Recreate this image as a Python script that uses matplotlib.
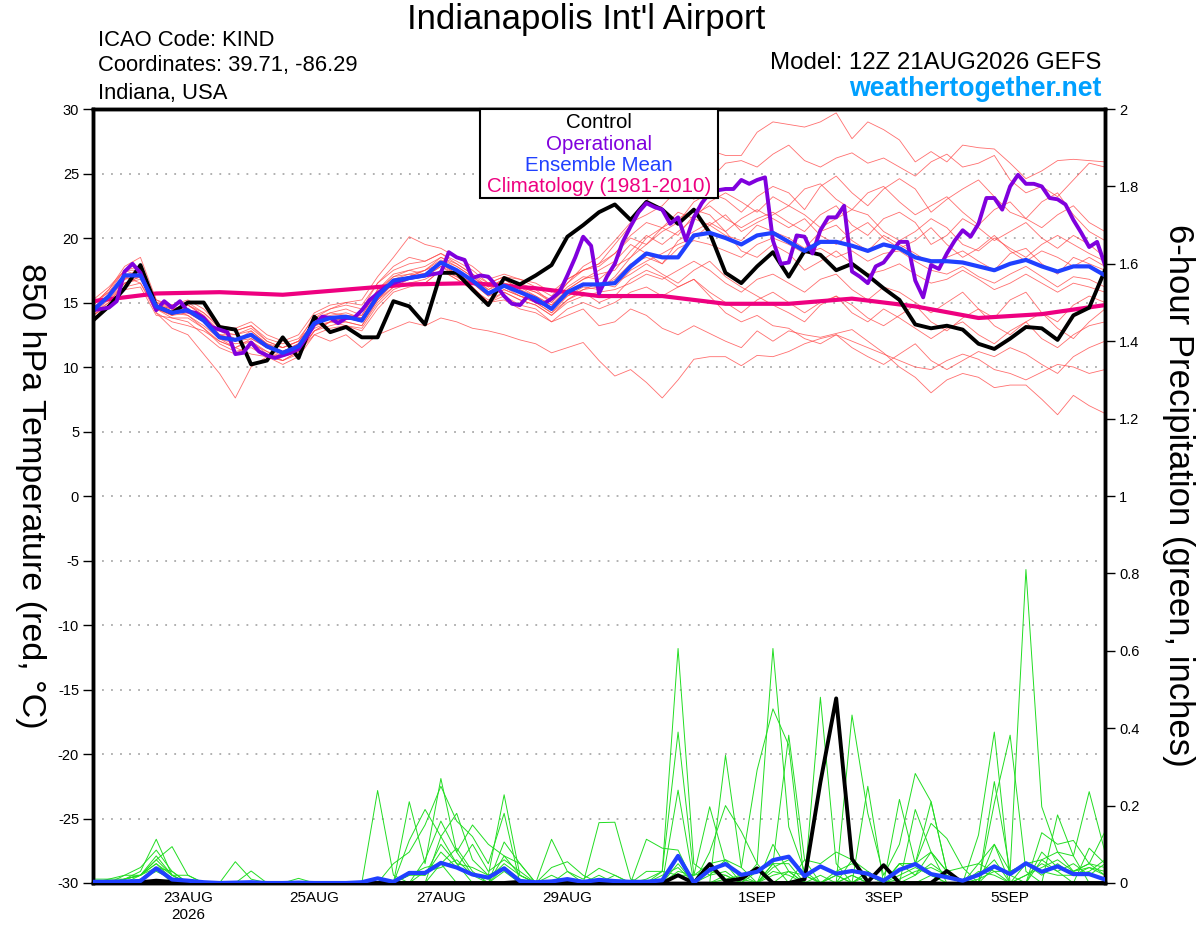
import pandas as pd
import matplotlib
matplotlib.use("Agg")
import matplotlib.pyplot as plt
from matplotlib.patches import Rectangle

plt.rcParams['font.family'] = ['Liberation Sans', 'DejaVu Sans']
plt.rcParams['axes.unicode_minus'] = False

# 6-hourly GEFS times, 3-hourly operational, daily climatology
times = pd.date_range("2026-08-21 12:00", periods=65, freq="6h")
op_times = pd.date_range("2026-08-21 12:00", periods=129, freq="3h")
clim_times = pd.date_range("2026-08-21 12:00", periods=17, freq="24h")

tick_dates = ["2026-08-23", "2026-08-25", "2026-08-27", "2026-08-29", "2026-09-01", "2026-09-03", "2026-09-05"]
tick_labels = ["23AUG\n2026", "25AUG", "27AUG", "29AUG", "1SEP", "3SEP", "5SEP"]

# 850 hPa temperature (C)
control_t = [13.6, 14.7, 16.1, 17.9, 14.7, 14.2, 15.0, 15.0, 13.1, 12.9, 10.2, 10.5, 12.3, 10.7, 13.9, 12.7, 13.1, 12.3, 12.3, 15.1, 14.7, 13.3, 17.3,
             17.3, 16.0, 14.8, 16.9, 16.4, 17.1, 17.9, 20.1, 21.0, 22.0, 22.6, 21.4, 22.8, 22.2, 21.1, 22.2, 20.4, 17.3, 16.5, 17.8, 18.9,
             17.0, 19.0, 18.7, 17.5, 18.0, 17.1, 16.1, 15.2, 13.3, 13.0, 13.2, 12.9, 11.8, 11.4, 12.2, 13.1, 13.0, 12.1, 14.0, 14.6, 17.5]

mean_t = [14.4, 15.5, 17.1, 17.1, 14.7, 14.2, 14.4, 13.6, 12.3, 12.1, 12.5, 11.6, 11.1, 11.6, 13.4, 13.8, 13.9, 13.6, 15.5, 16.7, 16.9, 17.1, 18.1,
          17.5, 16.7, 15.7, 16.3, 15.8, 15.3, 14.5, 15.8, 16.4, 16.4, 16.5, 17.8, 18.8, 18.5, 18.5, 20.2, 20.4, 20.0, 19.5, 20.2, 20.4,
          19.7, 19.0, 19.7, 19.7, 19.4, 19.0, 19.5, 19.2, 18.5, 18.2, 18.2, 18.1, 17.8, 17.5, 18.0, 18.3, 17.8, 17.4, 17.8, 17.8, 17.1]

oper_t = [14.4, 14.5, 14.6, 15.1, 17.4, 18.0, 17.3, 15.8, 14.4, 15.1, 14.6, 15.1, 14.3, 14.2, 13.8, 13.1, 12.9, 12.7, 11.0, 11.1, 11.9, 11.2,
          10.9, 10.7, 10.9, 11.1, 11.4, 12.3, 13.3, 13.9, 13.8, 13.4, 13.8, 13.8, 14.4, 15.2, 15.7, 16.2, 16.5, 16.7, 16.9, 17.0, 17.1, 17.2, 17.3,
          18.9, 18.5, 18.3, 16.9, 17.1, 17.0, 16.3, 15.5, 14.9, 14.8, 15.5, 15.1, 14.9, 15.3, 15.8, 17.1, 18.5, 20.1, 19.4, 15.7,
          17.0, 18.0, 19.7, 20.9, 22.0, 22.7, 22.4, 22.2, 21.1, 21.6, 19.8, 21.6, 22.7, 23.5, 23.7, 23.8, 23.8, 24.5, 24.2, 24.5, 24.7,
          19.8, 18.0, 18.1, 20.2, 20.1, 18.8, 20.6, 21.6, 21.6, 22.5, 17.4, 17.0, 16.5, 17.8, 18.1, 18.9, 19.7, 19.7, 16.7, 15.4,
          17.9, 17.6, 18.8, 19.8, 20.6, 20.1, 21.1, 23.1, 23.1, 22.2, 24.0, 24.9, 24.2, 24.2, 24.0, 23.1, 23.0, 22.6, 21.4, 20.4,
          19.3, 19.7, 17.9]

clim_t = [15.1, 15.7, 15.8, 15.6, 16.0, 16.4, 16.5, 16.1, 15.5, 15.5, 14.9, 14.9, 15.3, 14.7, 13.8, 14.1, 14.8]

members_t = [
    [14.8, 16.0, 17.5, 17.8, 15.0, 14.5, 14.0, 13.0, 12.0, 11.5, 12.0, 11.0, 10.8, 11.5, 13.8, 14.5, 15.0, 14.8, 16.5, 17.8, 18.5, 18.2, 18.8,
     18.0, 17.2, 16.5, 17.0, 16.2, 15.8, 15.2, 16.5, 17.5, 18.0, 19.5, 21.0, 22.9, 24.0, 25.5, 26.8, 26.8, 26.4, 26.4, 28.2, 29.0,
     28.8, 28.6, 29.0, 29.7, 27.7, 29.0, 28.4, 27.6, 25.9, 26.7, 25.9, 27.2, 27.0, 26.9, 25.8, 24.6, 25.2, 26.0, 26.1, 26.0, 25.9],
    [14.2, 15.2, 16.8, 17.5, 14.5, 14.0, 14.8, 14.0, 12.8, 12.5, 13.0, 12.0, 11.5, 12.0, 13.5, 14.2, 14.0, 14.0, 16.0, 17.0, 17.5, 17.8, 18.5,
     17.8, 17.0, 16.0, 16.8, 16.5, 16.0, 15.0, 16.5, 17.8, 18.5, 19.8, 21.2, 21.8, 22.5, 23.8, 23.0, 24.5, 25.8, 26.0, 25.5, 26.5,
     27.2, 26.0, 25.5, 26.2, 26.6, 25.8, 26.2, 25.5, 24.8, 25.9, 26.5, 25.5, 25.8, 26.4, 24.5, 23.5, 24.0, 23.2, 24.5, 25.8, 25.5],
    [14.0, 15.0, 16.5, 16.8, 14.8, 14.5, 14.2, 13.5, 12.5, 12.0, 12.8, 11.8, 11.2, 11.8, 13.0, 13.5, 14.0, 13.5, 15.5, 16.5, 17.0, 17.5, 18.0,
     17.2, 16.5, 15.5, 16.0, 15.5, 15.0, 14.2, 15.5, 16.2, 16.0, 17.0, 18.5, 19.5, 20.5, 21.2, 22.8, 23.5, 23.0, 22.0, 23.2, 24.0,
     23.5, 22.2, 24.0, 24.8, 23.5, 22.5, 23.8, 24.6, 23.8, 22.0, 23.0, 23.8, 24.5, 23.2, 22.0, 21.5, 22.8, 23.5, 21.8, 20.5, 19.8],
    [15.0, 15.8, 17.0, 16.5, 14.5, 13.8, 13.5, 12.5, 11.5, 11.0, 11.8, 11.2, 10.5, 11.2, 12.5, 12.0, 12.5, 11.5, 12.5, 13.0, 13.5, 13.2, 13.8,
     13.5, 13.0, 12.8, 12.5, 12.1, 11.8, 11.1, 11.5, 11.9, 10.5, 9.3, 9.8, 8.8, 7.6, 9.0, 10.6, 10.8, 10.8, 10.1, 10.9, 10.8,
     11.2, 11.8, 12.2, 12.5, 12.0, 11.5, 11.0, 10.5, 10.0, 9.8, 10.5, 11.0, 10.6, 9.8, 9.5, 9.0, 9.6, 10.2, 10.0, 9.5, 9.8],
    [14.5, 15.5, 16.8, 17.0, 14.8, 14.0, 14.5, 13.8, 12.8, 12.2, 12.5, 11.5, 10.8, 11.5, 13.2, 13.8, 13.5, 13.2, 15.0, 16.2, 16.8, 17.0, 17.8,
     17.0, 16.2, 15.0, 15.5, 14.8, 14.5, 13.5, 14.0, 14.5, 13.2, 13.5, 14.5, 14.0, 13.0, 12.5, 13.2, 12.6, 12.0, 11.5, 12.8, 12.0,
     12.8, 12.5, 12.3, 12.6, 12.9, 12.0, 11.1, 10.0, 9.2, 8.0, 9.0, 9.5, 9.2, 8.4, 8.6, 8.6, 7.5, 6.3, 7.8, 7.0, 6.4],
    [14.0, 14.8, 16.2, 16.5, 14.2, 13.5, 13.2, 12.8, 12.0, 11.5, 11.0, 10.8, 10.5, 11.0, 12.8, 13.5, 13.2, 13.0, 14.8, 16.0, 16.5, 16.5, 17.5,
     16.8, 16.0, 15.2, 15.8, 15.2, 14.8, 14.0, 15.2, 15.8, 15.0, 15.5, 16.8, 17.5, 17.0, 16.2, 16.8, 15.5, 14.2, 13.5, 14.0, 13.2,
     13.0, 12.2, 11.8, 12.5, 11.5, 10.8, 10.2, 11.0, 11.8, 10.5, 9.8, 10.5, 11.2, 10.8, 11.5, 11.0, 10.2, 9.5, 10.8, 11.5, 12.0],
    [14.6, 15.6, 17.2, 17.2, 14.5, 14.2, 14.5, 13.8, 12.5, 12.0, 12.2, 11.5, 11.0, 11.5, 13.5, 14.0, 14.2, 13.8, 15.8, 17.0, 17.2, 17.5, 18.3,
     17.8, 17.0, 16.2, 16.8, 16.0, 15.5, 14.8, 16.0, 16.8, 17.2, 17.5, 19.0, 20.2, 19.5, 20.5, 21.5, 21.0, 20.2, 19.8, 21.0, 20.5,
     20.0, 19.2, 20.5, 21.0, 19.8, 19.0, 20.2, 19.5, 18.8, 18.0, 18.5, 19.0, 18.2, 17.5, 18.8, 19.2, 18.0, 17.2, 18.5, 18.0, 17.5],
    [14.2, 15.0, 16.5, 17.0, 15.0, 14.8, 15.0, 14.2, 13.0, 12.8, 13.2, 12.2, 11.8, 12.2, 13.8, 14.2, 14.5, 14.0, 16.0, 17.2, 17.5, 17.2, 18.0,
     17.5, 16.8, 16.0, 16.5, 16.2, 15.8, 15.0, 16.2, 17.0, 16.8, 17.8, 18.5, 20.0, 20.8, 20.2, 21.8, 22.5, 21.5, 20.8, 21.5, 22.0,
     21.2, 20.5, 21.8, 22.5, 21.0, 20.2, 21.5, 22.0, 21.2, 19.5, 20.2, 21.5, 20.8, 19.8, 20.5, 21.2, 20.0, 19.2, 20.2, 19.5, 18.5],
    [14.8, 15.8, 17.5, 17.5, 14.8, 14.2, 14.0, 13.2, 12.2, 11.8, 12.0, 11.2, 10.8, 11.2, 12.8, 13.2, 13.5, 13.2, 15.2, 16.2, 16.5, 16.8, 17.5,
     17.0, 16.2, 15.0, 15.8, 15.2, 14.8, 14.0, 15.0, 15.5, 15.8, 16.0, 16.5, 17.2, 16.8, 17.5, 18.2, 17.5, 16.5, 15.8, 16.8, 17.2,
     16.5, 15.8, 16.8, 17.2, 16.0, 15.2, 16.2, 15.8, 15.0, 14.2, 15.0, 15.8, 14.5, 13.8, 15.2, 15.8, 14.2, 13.5, 14.8, 15.5, 15.0],
    [14.4, 15.4, 16.8, 17.8, 15.2, 14.5, 14.8, 14.0, 12.5, 12.5, 12.8, 11.8, 11.5, 12.0, 13.5, 13.8, 14.0, 13.8, 15.8, 16.8, 17.0, 17.5, 18.5,
     18.0, 17.2, 16.2, 16.8, 16.0, 15.2, 14.5, 15.5, 16.0, 16.5, 16.2, 17.5, 18.2, 18.8, 19.5, 20.0, 21.0, 21.8, 20.5, 21.2, 21.8,
     22.5, 21.8, 20.8, 21.5, 22.2, 21.8, 20.5, 19.8, 20.5, 21.5, 20.8, 19.5, 19.0, 20.0, 19.2, 18.5, 19.5, 20.2, 19.5, 18.8, 18.2],
    [14.6, 15.2, 16.5, 17.0, 14.2, 13.0, 12.5, 11.0, 9.5, 7.6, 10.0, 10.8, 10.5, 11.2, 12.8, 13.5, 13.8, 13.5, 15.2, 16.5, 17.0, 17.2, 18.0,
     17.2, 16.5, 15.5, 16.0, 15.5, 15.0, 14.2, 15.2, 16.0, 16.2, 16.8, 18.0, 18.5, 18.0, 19.2, 19.8, 19.5, 19.0, 18.5, 19.5, 20.0,
     19.5, 18.8, 19.2, 18.5, 19.0, 18.2, 18.8, 19.0, 18.2, 17.5, 17.2, 17.8, 17.0, 16.5, 17.2, 17.8, 17.0, 16.2, 17.0, 16.8, 16.2],
    [14.2, 15.4, 17.0, 17.2, 14.8, 14.5, 14.8, 14.2, 13.2, 13.0, 13.5, 12.5, 12.0, 12.5, 14.2, 14.8, 15.0, 15.2, 17.0, 18.5, 20.1, 19.5, 19.2,
     18.5, 17.8, 16.8, 17.2, 16.8, 16.5, 15.8, 16.8, 17.5, 18.0, 18.8, 20.2, 21.2, 20.8, 21.5, 22.2, 21.8, 20.5, 19.0, 18.5, 19.5,
     18.8, 17.5, 18.2, 19.0, 18.0, 17.2, 17.5, 18.0, 17.2, 16.5, 16.8, 17.5, 16.8, 16.0, 16.5, 17.2, 16.5, 15.8, 16.5, 16.2, 15.8],
    [14.0, 14.8, 16.0, 16.2, 14.0, 13.8, 13.8, 13.0, 11.8, 11.2, 11.5, 10.8, 10.2, 10.8, 12.5, 13.0, 13.2, 12.8, 14.5, 15.8, 16.2, 16.5, 17.5,
     16.8, 16.0, 15.0, 15.2, 14.5, 14.2, 13.5, 14.5, 15.0, 14.5, 15.0, 15.8, 16.2, 15.5, 16.2, 16.8, 15.8, 15.0, 14.2, 15.2, 15.8,
     15.0, 14.2, 15.0, 15.5, 14.2, 13.5, 14.5, 13.8, 13.0, 12.2, 13.0, 13.5, 12.5, 11.8, 12.8, 13.5, 12.2, 11.5, 12.5, 13.2, 13.5],
    [14.8, 16.0, 17.8, 18.5, 15.2, 14.8, 15.2, 14.5, 13.2, 12.8, 13.2, 12.0, 11.5, 12.0, 14.0, 14.5, 14.8, 14.5, 16.5, 17.5, 18.0, 18.2, 18.8,
     18.2, 17.5, 16.5, 17.0, 16.8, 16.2, 15.5, 16.8, 17.5, 17.8, 18.8, 20.0, 19.5, 20.8, 22.0, 21.5, 22.8, 23.5, 22.8, 22.0, 23.2,
     22.5, 23.8, 24.2, 23.0, 22.2, 23.5, 24.0, 22.8, 21.8, 22.5, 23.2, 22.0, 21.0, 22.2, 22.8, 21.5, 20.8, 21.8, 22.5, 21.2, 20.5],
    [15.2, 16.2, 17.5, 17.0, 14.5, 14.0, 14.2, 13.5, 12.2, 11.5, 12.2, 11.5, 11.2, 11.8, 13.2, 13.8, 13.8, 13.5, 15.2, 16.5, 17.0, 17.2, 18.2,
     17.5, 16.8, 15.8, 16.2, 15.5, 15.2, 14.5, 15.8, 16.5, 16.2, 16.5, 17.2, 18.0, 17.2, 16.5, 17.5, 18.2, 17.0, 16.2, 15.5, 14.8,
     14.2, 13.5, 14.8, 15.5, 14.8, 13.8, 13.2, 14.0, 14.8, 13.5, 12.8, 13.8, 14.5, 13.2, 12.5, 13.5, 14.2, 13.0, 12.2, 13.5, 14.5],
    [14.5, 15.6, 17.0, 17.0, 14.6, 14.2, 14.4, 13.6, 12.5, 12.2, 12.5, 11.8, 11.2, 11.8, 13.2, 13.5, 13.8, 13.8, 15.5, 16.8, 17.2, 17.0, 17.8,
     17.2, 16.5, 15.8, 16.5, 16.2, 15.5, 14.8, 16.0, 16.8, 17.5, 18.2, 19.5, 18.8, 18.0, 19.8, 20.5, 21.2, 20.5, 21.5, 22.2, 21.5,
     20.8, 21.5, 20.2, 19.5, 20.5, 21.2, 20.0, 19.2, 19.8, 20.8, 19.5, 18.5, 19.2, 20.2, 19.0, 18.2, 19.0, 18.5, 17.8, 18.5, 17.8],
]

# 6-hour precipitation (inches)
control_p = [0, 0, 0, 0.002, 0.006, 0.003, 0, 0, 0, 0, 0, 0, 0,
             0, 0, 0, 0, 0, 0, 0, 0, 0, 0, 0, 0, 0,
             0, 0.003, 0, 0, 0, 0, 0, 0, 0, 0, 0, 0.02, 0,
             0.049, 0.005, 0.011, 0.038, 0, 0, 0.01, 0.26, 0.477, 0.062, 0.003, 0.046, 0,
             0, 0, 0.031, 0, 0, 0, 0, 0, 0, 0, 0, 0, 0]

mean_p = [0.003, 0.003, 0.004, 0.005, 0.038, 0.009, 0.006, 0.002, 0, 0.001, 0.002, 0, 0,
          0.001, 0, 0, 0, 0.002, 0.012, 0.003, 0.026, 0.026, 0.052, 0.04, 0.022, 0.014,
          0.038, 0.005, 0.002, 0.004, 0.01, 0.003, 0.008, 0.005, 0.003, 0.003, 0.007, 0.07, 0.001,
          0.034, 0.049, 0.021, 0.029, 0.059, 0.068, 0.018, 0.043, 0.024, 0.031, 0.024, 0.006, 0.034,
          0.049, 0.023, 0.015, 0.006, 0.021, 0.043, 0.023, 0.051, 0.029, 0.043, 0.023, 0.023, 0.009]

members_p = [
    [0, 0, 0.01, 0.03, 0.113, 0.02, 0, 0, 0, 0, 0, 0, 0,
     0, 0, 0, 0, 0, 0.239, 0.02, 0, 0, 0.05, 0, 0, 0,
     0.07, 0.02, 0, 0, 0.01, 0, 0, 0, 0, 0.01, 0.03, 0.606, 0.05,
     0.02, 0.06, 0.01, 0, 0.1, 0.03, 0, 0.02, 0, 0.06, 0.03, 0, 0.05,
     0.02, 0.08, 0.03, 0, 0.05, 0.1, 0.03, 0.81, 0.197, 0.08, 0.03, 0.05, 0.02],
    [0, 0, 0.02, 0.04, 0.085, 0.03, 0, 0, 0, 0, 0, 0, 0,
     0, 0, 0, 0, 0, 0, 0, 0.21, 0.05, 0.27, 0.08, 0.02, 0,
     0.106, 0.05, 0, 0.113, 0.03, 0, 0, 0, 0, 0, 0.03, 0.39, 0.02,
     0.197, 0.05, 0, 0.05, 0.606, 0.145, 0.03, 0, 0, 0.02, 0, 0, 0.05,
     0.05, 0.21, 0.03, 0, 0, 0.262, 0.03, 0.05, 0.06, 0.03, 0, 0.09, 0.05],
    [0.01, 0.01, 0.02, 0.02, 0.06, 0.094, 0.02, 0, 0, 0, 0, 0, 0,
     0, 0, 0, 0, 0, 0, 0, 0.11, 0.19, 0.12, 0.18, 0.06, 0.02,
     0.228, 0.02, 0, 0, 0, 0, 0.156, 0.157, 0.01, 0, 0, 0.24, 0,
     0, 0.33, 0.04, 0, 0.05, 0.382, 0.06, 0, 0.02, 0, 0.25, 0, 0,
     0.19, 0.08, 0, 0, 0, 0.206, 0.382, 0.03, 0, 0.176, 0.07, 0, 0],
    [0, 0, 0.01, 0.02, 0.05, 0.01, 0, 0, 0, 0.055, 0.01, 0, 0,
     0, 0, 0, 0, 0, 0, 0.05, 0.08, 0.15, 0.25, 0.16, 0.12, 0.05,
     0.18, 0, 0, 0.04, 0.055, 0.02, 0, 0, 0, 0.113, 0.09, 0.085, 0,
     0.08, 0.2, 0.133, 0.05, 0, 0.03, 0, 0.48, 0.05, 0, 0.03, 0, 0.216,
     0.05, 0.154, 0.115, 0.04, 0, 0.1, 0, 0, 0.13, 0.1, 0.11, 0.05, 0.133],
    [0, 0, 0, 0.01, 0.04, 0.03, 0, 0, 0, 0, 0.031, 0, 0,
     0.012, 0, 0, 0, 0, 0, 0, 0, 0.06, 0.16, 0.08, 0.15, 0.1,
     0.07, 0.05, 0, 0, 0.03, 0.01, 0.038, 0.02, 0, 0.03, 0.03, 0.02, 0,
     0.05, 0.06, 0.04, 0.292, 0.45, 0.356, 0, 0, 0, 0.434, 0.18, 0.02, 0.1,
     0.283, 0.21, 0.03, 0, 0.124, 0.39, 0, 0, 0.06, 0.08, 0.07, 0.236, 0.08],
    [0, 0, 0.01, 0.02, 0.07, 0.02, 0.02, 0, 0, 0, 0, 0, 0,
     0, 0, 0, 0, 0, 0, 0, 0, 0, 0.12, 0.05, 0, 0,
     0.04, 0, 0, 0, 0, 0, 0, 0.02, 0, 0, 0, 0.02, 0.02,
     0.05, 0, 0, 0, 0.05, 0, 0.06, 0.05, 0.08, 0.06, 0, 0, 0.05,
     0.05, 0.08, 0.03, 0.04, 0.05, 0.03, 0.03, 0.05, 0.03, 0.02, 0.02, 0.04, 0.03],
    [0, 0, 0, 0.01, 0.03, 0.01, 0, 0, 0, 0, 0, 0, 0,
     0, 0, 0, 0, 0, 0, 0, 0.02, 0.04, 0.05, 0.09, 0.03, 0,
     0.03, 0, 0, 0, 0, 0, 0, 0, 0, 0, 0, 0.02, 0,
     0, 0.02, 0, 0, 0.02, 0.03, 0.02, 0, 0.02, 0, 0.03, 0, 0,
     0, 0.02, 0, 0, 0.02, 0.06, 0, 0.05, 0.02, 0.05, 0.02, 0.03, 0.06],
    [0, 0, 0.01, 0.02, 0.06, 0.02, 0, 0, 0, 0, 0, 0, 0,
     0, 0, 0, 0, 0, 0, 0, 0.03, 0.02, 0.08, 0.04, 0.1, 0.03,
     0.06, 0.03, 0, 0.02, 0, 0, 0, 0, 0, 0, 0, 0.05, 0,
     0.02, 0.03, 0, 0.03, 0.05, 0.05, 0, 0, 0, 0, 0.02, 0, 0.01,
     0.03, 0.04, 0.02, 0, 0.03, 0.02, 0, 0.02, 0.04, 0.06, 0.03, 0.04, 0.02],
    [0, 0.01, 0.01, 0.02, 0.05, 0.02, 0, 0, 0, 0, 0, 0, 0,
     0, 0, 0, 0, 0, 0, 0, 0, 0.03, 0.04, 0.06, 0.02, 0.01,
     0.05, 0.02, 0, 0, 0, 0, 0, 0, 0, 0, 0.02, 0.04, 0,
     0, 0.01, 0.02, 0, 0.03, 0.02, 0, 0, 0.03, 0.05, 0.02, 0, 0,
     0.02, 0.05, 0.02, 0, 0, 0.04, 0.02, 0, 0.08, 0.04, 0.03, 0.05, 0.04],
    [0, 0, 0, 0.02, 0.04, 0, 0, 0, 0, 0, 0, 0, 0,
     0, 0, 0, 0, 0, 0, 0, 0.02, 0.02, 0.1, 0.05, 0.04, 0.02,
     0.04, 0.01, 0, 0, 0.01, 0, 0.02, 0, 0, 0, 0, 0.03, 0.02,
     0.03, 0.02, 0, 0, 0.04, 0.06, 0.02, 0, 0, 0.02, 0, 0, 0.02,
     0.04, 0.02, 0, 0, 0.01, 0.03, 0, 0.02, 0.05, 0.03, 0.05, 0.02, 0.05],
]

W, H = 1200, 927
fig = plt.figure(figsize=(W / 100, H / 100), dpi=100)
ax = fig.add_axes([93 / W, 1 - 883 / H, 1012 / W, 774 / H])
ax2 = ax.twinx()

for m in members_t:
    ax.plot(times, m, color="#ff4a4a", lw=0.6, alpha=0.8, zorder=2)
ax.plot(clim_times, clim_t, color="#ee0080", lw=3, zorder=4)
ax.plot(times, control_t, color="black", lw=2.8, zorder=5)
ax.plot(op_times, oper_t, color="#8000dd", lw=2.8, zorder=6)
ax.plot(times, mean_t, color="#2040ff", lw=3, zorder=7)

for m in members_p:
    ax2.plot(times, m, color="#22dd22", lw=0.7, zorder=2)
ax2.plot(times, control_p, color="black", lw=2.8, zorder=5)
ax2.plot(times, mean_p, color="#2040ff", lw=3, zorder=6)

ax.set_ylim(-30, 30)
ax.set_yticks(range(-30, 31, 5))
ax.set_xlim(times[0], times[-1])
ax.grid(axis="y", color="#aaaaaa", linestyle=(0, (1, 4)), lw=1.3)
ax2.set_ylim(0, 2)
ax2.set_yticks([0, 0.2, 0.4, 0.6, 0.8, 1, 1.2, 1.4, 1.6, 1.8, 2])
ax2.set_yticklabels(["0", "0.2", "0.4", "0.6", "0.8", "1", "1.2", "1.4", "1.6", "1.8", "2"])
ax.set_xticks(pd.to_datetime(tick_dates))
ax.set_xticklabels(tick_labels)

ax.tick_params(axis="y", direction="out", length=7, width=1, labelsize=10.5, pad=3)
ax2.tick_params(axis="y", direction="out", length=7, width=1, labelsize=10.5, pad=3)
ax.tick_params(axis="x", length=0, labelsize=11, pad=6)
for a in (ax, ax2):
    for s in a.spines.values():
        s.set_linewidth(2.5)

# axis titles (both read top to bottom)
fig.text(30 / W, 1 - 496 / H, "850 hPa Temperature (red, \u00b0C)", fontsize=24.5,
         rotation=-90, ha="center", va="center")
fig.text(1178 / W, 1 - 495 / H, "6-hour Precipitation (green, inches)", fontsize=25,
         rotation=-90, ha="center", va="center")

# legend box
ax2.add_patch(Rectangle((0.3824, 0.885), 0.2352, 0.115, transform=ax2.transAxes,
                        facecolor="white", edgecolor="black", lw=1.5, zorder=10, clip_on=False))
leg = [("Control", "black"), ("Operational", "#8000dd"),
       ("Ensemble Mean", "#2040ff"), ("Climatology (1981-2010)", "#ee0080")]
for k, (txt, col) in enumerate(leg):
    ax2.text(0.5, 0.982 - k * 0.0275, txt, color=col, fontsize=14.8, ha="center", va="center",
             transform=ax2.transAxes, zorder=11)

fig.text(586 / W, 1 - 19 / H, "Indianapolis Int'l Airport", fontsize=25, ha="center", va="center")
fig.text(98 / W, 1 - 40 / H, "ICAO Code: KIND", fontsize=15.8, ha="left", va="center")
fig.text(98 / W, 1 - 66 / H, "Coordinates: 39.71, -86.29", fontsize=15.8, ha="left", va="center")
fig.text(98 / W, 1 - 93 / H, "Indiana, USA", fontsize=15.8, ha="left", va="center")
fig.text(1101 / W, 1 - 63 / H, "Model: 12Z 21AUG2026 GEFS", fontsize=17.3, ha="right", va="center")
fig.text(1101 / W, 1 - 89 / H, "weathertogether.net", fontsize=19.2, fontweight="bold",
         color="#00a0ff", ha="right", va="center")

fig.savefig("out.png", dpi=100)
